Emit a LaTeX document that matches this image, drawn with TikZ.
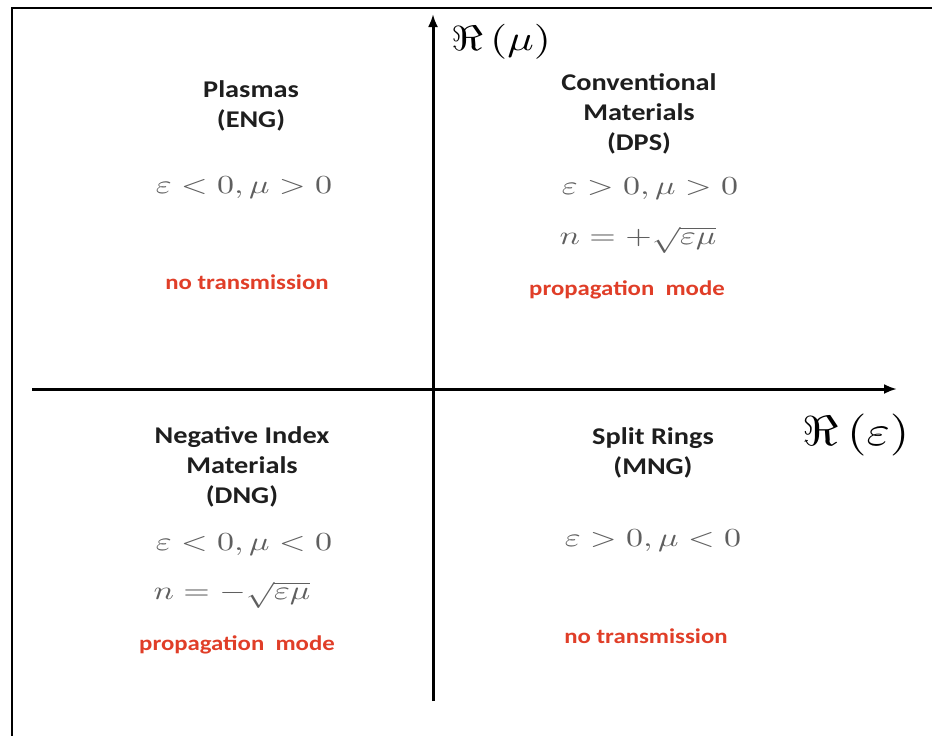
\documentclass[tikz,border=0pt]{standalone}
\usepackage{fontspec}
\usepackage{graphicx}
\usetikzlibrary{arrows.meta}
\newfontfamily\quadFont[FakeStretch=1.18]{Carlito}
\definecolor{quadTextColor}{RGB}{30,30,30}
\definecolor{quadMathColor}{RGB}{95,95,95}
\definecolor{quadModeColor}{RGB}{224,62,40}
\newcommand{\quadMath}[1]{\scalebox{3.4}[2.6]{$#1$}}
\begin{document}
\begin{tikzpicture}[x=1pt, y=-1pt,
    axis/.style={line width=3pt, -{Latex[length=13pt,width=10pt]}},
    mattext/.style={font=\quadFont\bfseries\fontsize{24}{30}\selectfont, text=quadTextColor, align=center, inner sep=0pt},
    condtext/.style={font=\normalsize, text=quadMathColor, inner sep=0pt},
    modetext/.style={font=\quadFont\bfseries\fontsize{21}{24}\selectfont, text=quadModeColor, inner sep=0pt}]
\useasboundingbox (0,0) rectangle (932,736);
% Outer frame (only left and top edges are visible)
\draw[line width=2pt] (12,737) -- (12,8) -- (933,8);
% Axes
\coordinate (emin) at (32,389);
\coordinate (emax) at (897,389);
\coordinate (mmin) at (433,701);
\coordinate (mmax) at (433,14);
\draw[axis] (emin) -- (emax);
\draw[axis] (mmin) -- (mmax);
% Axis labels
\node[inner sep=0pt] (relmu) at (501,42) {\scalebox{4.4}[3.5]{$\Re\,(\mu)$}};
\node[inner sep=0pt] (releps) at (856,435) {\scalebox{5.0}[4.2]{$\Re\,(\varepsilon)$}};
% Upper left quadrant
\node[mattext] (eng) at (251,106) {Plasmas\\(ENG)};
\node[condtext] (engcond) at (244,188) {\quadMath{\varepsilon < 0, \mu > 0}};
\node[modetext] (engmode) at (247,282) {no transmission};
% Upper right quadrant
\node[mattext] (dps) at (639,114) {Conventional\\Materials\\(DPS)};
\node[condtext] (dpscond) at (650,189) {\quadMath{\varepsilon > 0, \mu > 0}};
\node[condtext] (dpsindex) at (638,240) {\quadMath{n = +\sqrt{\varepsilon\mu}}};
\node[modetext] (dpsmode) at (627,290) {propagation\ \ mode};
% Lower left quadrant
\node[mattext] (dng) at (242,467) {Negative Index\\Materials\\(DNG)};
\node[condtext] (dngcond) at (244,545) {\quadMath{\varepsilon < 0, \mu < 0}};
\node[condtext] (dngindex) at (232,595) {\quadMath{n = -\sqrt{\varepsilon\mu}}};
\node[modetext] (dngmode) at (237,645) {propagation\ \ mode};
% Lower right quadrant
\node[mattext] (mng) at (653,453) {Split Rings\\(MNG)};
\node[condtext] (mngcond) at (653,541) {\quadMath{\varepsilon > 0, \mu < 0}};
\node[modetext] (mngmode) at (646,636) {no transmission};
\end{tikzpicture}
\end{document}
